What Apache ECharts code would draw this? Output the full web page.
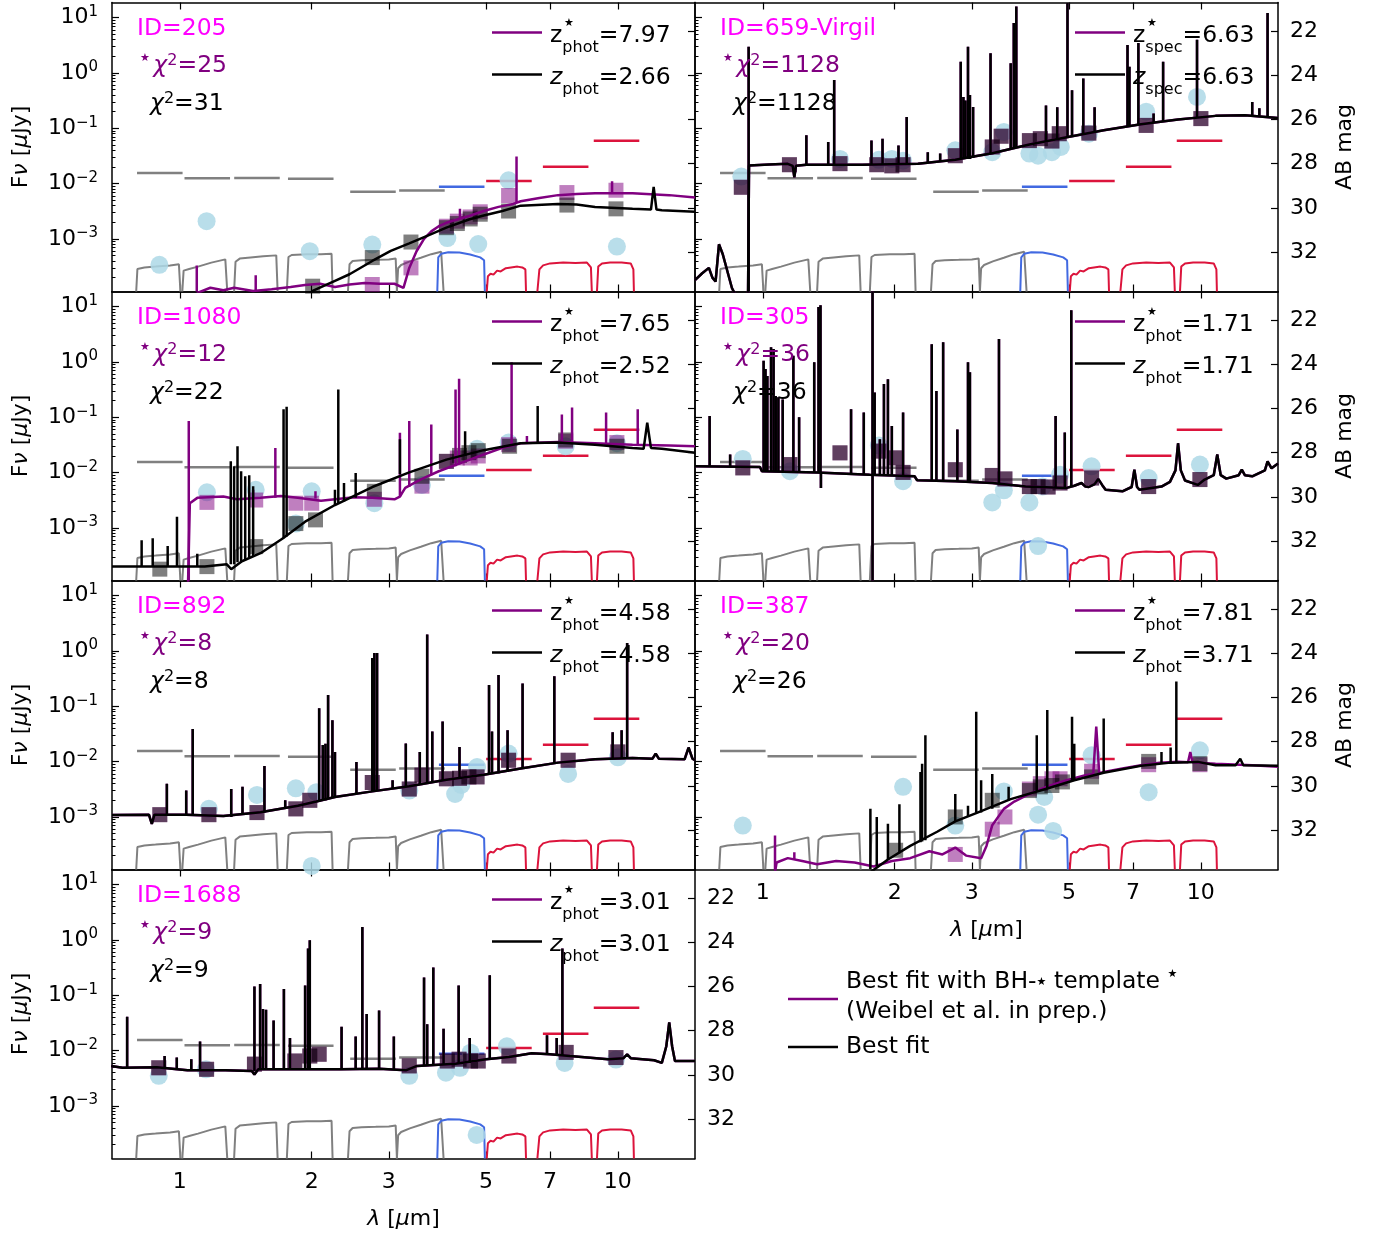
<!DOCTYPE html>
<html>
<head>
<meta charset="utf-8">
<script src="https://cdn.jsdelivr.net/npm/echarts@6/dist/echarts.min.js"></script>
<style>
  html, body { margin: 0; padding: 0; background: #fff; }
  #chart { width: 1384px; height: 1236px; }
</style>
</head>
<body>
<div id="chart"></div>
<script>
// ===== SED panels (wavelength in micron, flux density in microJy) =====

const FONT = 'DejaVu Sans';

const lamTicks = [1, 2, 3, 5, 7, 10];
const abTicks = [22, 24, 26, 28, 30, 32];
const lamRange = [0.7, 15];
const fluxRange = [1.122e-4, 18.84];

// filters: pivot, depth (the horizontal dashes), transmission curves
const filterPivot = [0.90, 1.155, 1.50, 1.99, 2.76, 3.57, 4.40, 5.64, 7.60, 9.93];
const filterDepth = [0.0156, 0.0125, 0.0126, 0.0123, 0.0071, 0.0075, 0.0088, 0.0112, 0.0202, 0.0596];

const f090w = [[0.795,0],[0.80,0.56],[0.83,0.60],[0.88,0.62],[0.95,0.65],[0.995,0.68],[1.003,0]];
const f115w = [[1.013,0],[1.02,0.52],[1.05,0.56],[1.10,0.62],[1.18,0.72],[1.27,0.80],[1.283,0]];
const f150w = [[1.33,0],[1.34,0.74],[1.37,0.82],[1.45,0.85],[1.55,0.88],[1.66,0.90],[1.672,0]];
const f200w = [[1.755,0],[1.77,0.86],[1.80,0.91],[1.95,0.93],[2.10,0.93],[2.22,0.94],[2.232,0]];
const f277w = [[2.42,0],[2.44,0.68],[2.48,0.76],[2.6,0.78],[2.8,0.79],[3.0,0.80],[3.11,0.82],[3.13,0]];
const f356w = [[3.13,0],[3.15,0.58],[3.2,0.66],[3.35,0.75],[3.55,0.84],[3.75,0.93],[3.95,0.99],[4.0,0]];
const f444w = [[3.87,0],[3.89,0.85],[3.95,0.94],[4.1,0.98],[4.35,0.97],[4.6,0.92],[4.85,0.85],[4.95,0.78],[4.97,0]];
const f560w = [[5.02,0],[5.05,0.38],[5.12,0.44],[5.2,0.42],[5.3,0.52],[5.4,0.50],[5.55,0.58],[5.7,0.60],[5.9,0.62],[6.05,0.60],[6.15,0.55],[6.17,0]];
const f770w = [[6.55,0],[6.62,0.55],[6.75,0.65],[7.0,0.70],[7.5,0.72],[8.0,0.71],[8.5,0.72],[8.68,0.60],[8.72,0]];
const f1000w = [[8.96,0],[9.02,0.62],[9.2,0.70],[9.6,0.72],[10.2,0.72],[10.7,0.70],[10.85,0.55],[10.88,0]];
const filterCurves = [f090w, f115w, f150w, f200w, f277w, f356w, f444w, f560w, f770w, f1000w];

// panel labels
const panelIds = ['ID=205', 'ID=659-Virgil', 'ID=1080', 'ID=305', 'ID=892', 'ID=387', 'ID=1688'];
const chi2Bh = [25, 1128, 12, 36, 8, 20, 9];
const chi2Best = [31, 1128, 22, 36, 8, 26, 9];
const zBh = ['7.97', '6.63', '7.65', '1.71', '4.58', '7.81', '3.01'];
const zBest = ['2.66', '6.63', '2.52', '1.71', '4.58', '3.71', '3.01'];
const zKind = ['phot', 'spec', 'phot', 'phot', 'phot', 'phot', 'phot'];

// ---- ID 205 ----
const p205Obs = [[0.898,0.00034],[1.151,0.0021],[1.98,0.0006],[2.75,0.00079],[4.08,0.00104],[4.8,0.00081],[5.63,0.0115],[9.95,0.00073]];
const p205BhPhot = [[2.75,0.00015],[3.37,0.0003],[4.06,0.0017],[4.3,0.0021],[4.6,0.0025],[4.85,0.0031],[5.63,0.0061],[7.65,0.0069],[9.9,0.0076]];
const p205BestPhot = [[2.01,0.00014],[2.75,0.00046],[3.37,0.00088],[4.06,0.0016],[4.3,0.0019],[4.6,0.0023],[4.85,0.0028],[5.63,0.0032],[7.65,0.0041],[9.9,0.0035]];
const p205BhSpec = [[1.0,0.00009],[1.085,0.00009],[1.1,0.000107],[1.174,0.000131],[1.257,0.000118],[1.33,0.000131],[1.47,0.000115],[1.62,0.000123],[1.79,0.000135],[1.93,0.000147],[2.09,0.000155],[2.26,0.000135],[2.44,0.00015],[2.64,0.00016],[2.86,0.000155],[3.09,0.000155],[3.24,0.000131],[3.34,0.0003],[3.47,0.0006],[3.61,0.001],[3.75,0.00137],[3.9,0.0017],[4.06,0.00196],[4.22,0.00216],[4.57,0.0026],[4.94,0.0032],[5.34,0.0038],[5.77,0.0043],[6.0,0.0048],[6.62,0.0055],[7.3,0.0062],[8.05,0.0065],[8.87,0.0067],[10.8,0.0067],[13.1,0.0062],[15,0.0056]];
const p205BhLines = [[1.093,0.0001,0.00033],[1.49,0.00012,0.00022],[4.36,0.0023,0.0035],[5.87,0.0045,0.031],[9.7,0.0067,0.011]];
const p205BestSpec = [[1.97,0.0001],[2.01,0.000115],[2.26,0.000175],[2.44,0.00023],[2.75,0.0004],[3.03,0.00061],[3.34,0.00083],[3.68,0.00115],[4.06,0.0016],[4.57,0.00225],[4.94,0.00265],[5.45,0.0032],[6.0,0.004],[7.3,0.0043],[8.05,0.0042],[8.87,0.0038],[10.8,0.0035],[11.9,0.0034],[12.07,0.0087],[12.25,0.0034],[12.6,0.0033],[15,0.0031]];
const p205BestLines = [];

// ---- ID 659 (Virgil) ----
const p659Obs = [[0.893,0.0134],[1.5,0.028],[1.84,0.027],[1.97,0.028],[2.09,0.026],[2.75,0.04],[3.34,0.037],[3.55,0.086],[4.06,0.035],[4.25,0.032],[4.57,0.037],[4.79,0.046],[5.55,0.08],[7.5,0.2],[9.8,0.37]];
const p659Phot = [[0.893,0.0086],[1.15,0.022],[1.5,0.023],[1.82,0.022],[1.97,0.021],[2.09,0.022],[2.75,0.032],[3.34,0.046],[3.5,0.072],[4.06,0.06],[4.3,0.065],[4.57,0.059],[4.75,0.08],[5.55,0.082],[7.5,0.113],[10,0.15]];
const p659Spec = [[0.70,0.00018],[0.727,0.00024],[0.753,0.0003],[0.767,0.0002],[0.78,0.00017],[0.794,0.0008],[0.81,0.00053],[0.85,0.00013],[0.87,0.00009],[0.925,0.00009],[0.93,0.0212],[0.938,0.0212],[1.034,0.0222],[1.14,0.0228],[1.17,0.021],[1.18,0.013],[1.19,0.021],[1.257,0.022],[1.685,0.022],[2.26,0.0228],[2.75,0.027],[3.34,0.0355],[4.06,0.051],[4.94,0.069],[6.0,0.092],[7.3,0.118],[8.87,0.144],[10.8,0.168],[12.6,0.172],[15,0.154]];
const p659Lines = [[0.928,0.0001,3.0],[1.257,0.022,0.0746],[1.41,0.022,0.0565],[1.455,0.022,0.746],[1.77,0.022,0.0605],[1.876,0.022,0.0649],[2.04,0.022,0.049],[2.13,0.023,0.16],[2.38,0.024,0.037],[2.54,0.025,0.035],[2.83,0.028,1.6],[2.87,0.028,0.37],[2.9,0.028,0.32],[2.94,0.028,3.0],[2.97,0.028,0.4],[3.02,0.029,0.244],[3.31,0.035,2.28],[3.68,0.043,1.5],[3.74,0.043,8.0],[3.79,0.044,16],[4.43,0.058,0.26],[4.7,0.064,0.24],[4.96,0.069,18.5],[5.08,0.072,0.49],[5.39,0.08,0.8],[5.72,0.086,0.24],[6.8,0.108,3.2],[6.87,0.109,1.3],[7.2,0.115,3.5],[7.8,0.125,0.185],[8.2,0.132,1.6],[9.8,0.156,4.0],[13.1,0.17,0.3],[13.6,0.168,0.23],[14.2,0.165,12.2]];

// ---- ID 1080 ----
const p1080Obs = [[1.153,0.0044],[1.49,0.0049],[1.84,0.0012],[2.0,0.0046],[2.78,0.0028],[3.57,0.006],[4.77,0.027],[5.63,0.035],[7.6,0.03],[9.95,0.034]];
const p1080BhPhot = [[1.153,0.0029],[1.49,0.0032],[1.84,0.0028],[2.0,0.0028],[2.78,0.0033],[3.57,0.0057],[4.06,0.016],[4.3,0.0184],[4.6,0.0184],[4.8,0.02],[5.63,0.032],[7.6,0.037],[9.95,0.035]];
const p1080BestPhot = [[0.9,0.00018],[1.153,0.0002],[1.49,0.00046],[1.84,0.0012],[2.04,0.0014],[2.78,0.0046],[3.57,0.0086],[4.06,0.016],[4.35,0.0205],[4.57,0.023],[4.8,0.025],[5.66,0.03],[7.6,0.039],[9.95,0.03]];
const p1080BhSpec = [[1.044,0.0001],[1.054,0.0028],[1.096,0.0035],[1.257,0.0037],[1.35,0.0033],[1.528,0.0035],[1.7,0.0038],[1.858,0.0035],[2.1,0.0031],[2.26,0.0033],[2.5,0.0036],[2.75,0.0035],[3.09,0.0033],[3.18,0.0037],[3.27,0.0053],[3.54,0.0075],[3.9,0.0106],[4.48,0.016],[4.94,0.0213],[5.45,0.028],[6.0,0.034],[7.3,0.036],[8.87,0.034],[10.8,0.032],[13.1,0.031],[15,0.030]];
const p1080BhLines = [[1.048,0.0001,0.086],[1.47,0.0035,0.0049],[1.652,0.0035,0.028],[2.04,0.0034,0.0046],[3.18,0.0037,0.0526],[3.34,0.0055,0.086],[3.75,0.009,0.074],[4.26,0.013,0.32],[4.34,0.014,0.5],[5.72,0.03,0.99],[6.2,0.034,0.046],[7.45,0.036,0.113],[7.86,0.036,0.15],[9.4,0.034,0.122],[11.1,0.032,0.14]];
const p1080BestSpec = [[0.70,0.0002],[0.938,0.0002],[1.14,0.0002],[1.28,0.00022],[1.31,0.00018],[1.386,0.00025],[1.528,0.00035],[1.72,0.00065],[1.932,0.0013],[2.26,0.0026],[2.75,0.0055],[3.34,0.0101],[4.06,0.0172],[4.94,0.0255],[6.0,0.034],[7.3,0.035],[8.87,0.032],[10.8,0.028],[11.45,0.027],[11.67,0.08],[11.9,0.028],[12.6,0.027],[15,0.023]];
const p1080BestLines = [[0.818,0.0002,0.0006],[0.867,0.0002,0.00065],[0.938,0.0002,0.00047],[0.985,0.0002,0.0016],[1.096,0.0002,0.00034],[1.307,0.00022,0.016],[1.33,0.00022,0.013],[1.354,0.00024,0.03],[1.38,0.00025,0.0106],[1.41,0.00026,0.0086],[1.44,0.0003,0.009],[1.47,0.0003,0.0057],[1.725,0.00065,0.14],[1.753,0.0007,0.156],[2.26,0.0026,0.0049],[2.3,0.0028,0.32],[2.37,0.003,0.0065],[2.52,0.0035,0.0099],[3.18,0.0095,0.04],[4.48,0.02,0.056],[6.56,0.035,0.16]];

// ---- ID 305 ----
const p305Obs = [[0.9,0.0177],[1.153,0.0106],[1.84,0.031],[2.09,0.007],[3.34,0.0029],[3.55,0.0048],[4.06,0.0029],[4.25,0.00047],[4.35,0.0056],[4.77,0.0092],[5.63,0.013],[7.6,0.008],[9.95,0.014]];
const p305Phot = [[0.9,0.0122],[1.153,0.014],[1.5,0.0228],[1.84,0.0245],[2.0,0.0185],[2.09,0.0101],[2.75,0.0113],[3.34,0.0089],[3.57,0.0077],[4.06,0.0056],[4.25,0.0056],[4.48,0.0055],[4.77,0.0065],[5.63,0.008],[7.6,0.0056],[9.95,0.0075]];
const p305Spec = [[0.70,0.013],[0.985,0.0127],[0.995,0.0106],[1.33,0.0101],[1.753,0.0092],[2.22,0.0086],[2.25,0.0073],[2.75,0.007],[3.34,0.0065],[3.98,0.0056],[4.94,0.0053],[5.14,0.0058],[5.34,0.0065],[5.45,0.0056],[5.55,0.0055],[5.72,0.0062],[5.83,0.0077],[5.95,0.006],[6.06,0.0049],[6.62,0.0046],[6.95,0.0055],[7.05,0.0113],[7.15,0.0055],[7.24,0.0049],[8.13,0.0056],[8.5,0.0068],[8.75,0.011],[8.87,0.034],[9.0,0.011],[9.2,0.0072],[9.84,0.006],[10.2,0.0075],[10.7,0.009],[10.9,0.0213],[11.1,0.009],[11.43,0.0078],[12.2,0.009],[12.4,0.0113],[12.6,0.009],[13.1,0.0086],[14.0,0.011],[14.2,0.016],[14.5,0.012],[15,0.0146]];
const p305Lines = [[0.756,0.013,0.106],[0.842,0.013,0.0212],[1.004,0.0106,1.06],[1.014,0.0106,0.746],[1.024,0.0106,0.56],[1.044,0.0106,1.85],[1.058,0.0106,1.72],[1.07,0.0106,0.244],[1.085,0.0106,0.23],[1.11,0.0105,0.21],[1.174,0.0104,1.3],[1.21,0.0103,0.1],[1.31,0.0101,0.99],[1.34,0.0101,9.9],[1.354,0.0101,10.6],[1.357,0.0101,0.0053],[1.59,0.0095,0.14],[1.70,0.0093,0.122],[1.78,0.0001,25],[1.8,0.0092,0.28],[1.85,0.0091,0.04],[1.89,0.009,0.4],[1.93,0.009,0.49],[1.97,0.009,0.07],[2.09,0.0089,0.122],[2.43,0.0072,2.1],[2.49,0.0072,0.3],[2.58,0.0071,2.28],[2.78,0.007,0.06],[2.94,0.0069,0.99],[2.97,0.0069,0.65],[3.46,0.0063,2.6],[4.66,0.0054,0.106],[4.89,0.0053,0.053],[5.06,0.0055,8.6]];

// ---- ID 892 ----
const p892Obs = [[1.165,0.0014],[1.5,0.0025],[1.84,0.0033],[2.0,0.00013],[2.05,0.0028],[3.34,0.003],[4.25,0.0026],[4.39,0.0038],[4.77,0.008],[5.63,0.014],[7.7,0.006],[10.0,0.012]];
const p892Phot = [[0.9,0.0011],[1.165,0.0011],[1.5,0.0012],[1.84,0.0014],[1.98,0.002],[2.75,0.0042],[3.34,0.0032],[3.57,0.0057],[4.06,0.0049],[4.35,0.005],[4.57,0.0053],[4.77,0.0053],[5.63,0.0106],[7.7,0.0106],[10.0,0.015]];
const p892Spec = [[0.70,0.00109],[0.85,0.0011],[0.863,0.00075],[0.875,0.0011],[1.034,0.0011],[1.257,0.00104],[1.528,0.00122],[1.86,0.0016],[2.05,0.0019],[2.26,0.0023],[2.75,0.0029],[3.34,0.0036],[4.06,0.0047],[4.94,0.0058],[6.0,0.0075],[7.3,0.0096],[8.87,0.011],[10.8,0.0116],[12.0,0.0113],[12.2,0.014],[12.4,0.0113],[14.2,0.011],[14.5,0.018],[14.8,0.0113],[15,0.0106]];
const p892Lines = [[0.934,0.0011,0.004],[1.034,0.0011,0.003],[1.07,0.0011,0.039],[1.31,0.001,0.0032],[1.39,0.0011,0.0035],[1.56,0.0012,0.0083],[1.74,0.0014,0.002],[2.08,0.0019,0.092],[2.12,0.002,0.02],[2.15,0.002,0.021],[2.18,0.0021,0.16],[2.23,0.0022,0.056],[2.26,0.0023,0.015],[2.53,0.0026,0.0099],[2.75,0.0029,0.75],[2.78,0.0029,0.92],[2.82,0.003,0.92],[3.06,0.0032,0.0046],[3.28,0.0035,0.0213],[3.53,0.0038,0.015],[3.67,0.004,1.98],[3.77,0.0041,0.035],[3.98,0.0046,0.053],[4.35,0.005,0.0184],[5.08,0.0059,0.244],[5.16,0.006,0.035],[5.34,0.0062,0.37],[5.6,0.0066,0.037],[6.06,0.0074,0.26],[7.16,0.0094,0.35],[9.73,0.0113,0.034],[10.2,0.0115,0.037],[10.5,0.0115,1.4]];

// ---- ID 387 ----
const p387Obs = [[0.9,0.0007],[2.09,0.0035],[2.75,0.0007],[3.55,0.0029],[4.25,0.0011],[4.39,0.0023],[4.6,0.00056],[5.63,0.013],[7.6,0.0028],[9.95,0.016]];
const p387BhPhot = [[2.75,0.00021],[3.34,0.0006],[3.57,0.001],[4.06,0.0032],[4.3,0.004],[4.57,0.0049],[4.77,0.0049],[5.63,0.0067],[7.6,0.0088],[9.95,0.0088]];
const p387BestPhot = [[2.01,0.00025],[2.75,0.001],[3.34,0.002],[4.06,0.003],[4.3,0.0035],[4.57,0.0037],[4.83,0.0043],[5.63,0.0053],[7.6,0.0101],[9.95,0.0092]];
const p387BhSpec = [[1.066,0.0001],[1.075,0.00015],[1.14,0.00018],[1.23,0.00016],[1.33,0.00014],[1.47,0.00016],[1.62,0.00015],[1.79,0.000127],[1.97,0.00016],[2.17,0.00018],[2.4,0.00024],[2.57,0.00021],[2.75,0.00028],[2.91,0.0002],[3.15,0.00018],[3.24,0.0003],[3.34,0.00071],[3.55,0.0014],[3.75,0.0019],[4.06,0.0026],[4.48,0.0036],[4.94,0.0046],[5.45,0.0057],[5.68,0.006],[5.77,0.043],[5.86,0.0062],[6.0,0.0065],[6.62,0.0075],[7.3,0.0086],[8.05,0.0096],[8.87,0.01],[9.35,0.0098],[9.46,0.015],[9.57,0.0097],[10.8,0.0092],[13.1,0.0086],[15,0.0081]];
const p387BhLines = [[1.066,0.0001,0.00046],[1.18,0.00017,0.00023]];
const p387BestSpec = [[1.76,0.0001],[1.93,0.00017],[2.17,0.0003],[2.5,0.00054],[2.75,0.00083],[3.09,0.0012],[3.68,0.0021],[4.48,0.0033],[5.14,0.0046],[6.0,0.0063],[7.3,0.0084],[8.53,0.0096],[9.84,0.0099],[10.8,0.0086],[12.0,0.0086],[12.3,0.0113],[12.5,0.0086],[15,0.0084]];
const p387BestLines = [[1.76,0.0001,0.0014],[1.82,0.00013,0.001],[1.93,0.00017,0.00075],[2.05,0.00022,0.0017],[2.29,0.00035,0.0065],[2.31,0.00036,0.0092],[2.35,0.00038,0.03],[2.75,0.00083,0.0026],[2.94,0.001,0.0016],[3.07,0.0012,0.08],[3.15,0.0012,0.0046],[3.34,0.0014,0.006],[3.64,0.002,0.0035],[4.22,0.0029,0.03],[4.46,0.0033,0.086],[5.08,0.0045,0.065],[5.14,0.0046,0.021],[6.0,0.0063,0.06],[8.13,0.0093,0.015],[8.53,0.0096,0.018],[8.79,0.0097,0.28]];

// ---- ID 1688 ----
const p1688Obs = [[0.895,0.0035],[1.147,0.0046],[3.34,0.0035],[4.05,0.004],[4.36,0.0049],[4.61,0.0092],[4.76,0.0003],[5.58,0.012],[7.56,0.006],[9.9,0.0069]];
const p1688Phot = [[0.895,0.0049],[1.151,0.0046],[1.48,0.0057],[1.83,0.0065],[1.98,0.008],[2.08,0.0086],[3.34,0.0053],[4.08,0.0065],[4.34,0.007],[4.61,0.0065],[4.8,0.0065],[5.64,0.008],[7.62,0.0093],[9.9,0.0075]];
const p1688Spec = [[0.697,0.0053],[0.74,0.0049],[0.886,0.005],[1.041,0.0044],[1.27,0.0044],[1.46,0.0043],[1.48,0.0037],[1.51,0.0046],[1.9,0.0046],[2.33,0.0046],[2.85,0.0047],[3.28,0.0044],[3.48,0.0053],[4.26,0.0058],[5.0,0.007],[5.64,0.0077],[6.36,0.009],[7.0,0.0086],[7.77,0.008],[9.5,0.007],[10.3,0.0073],[10.5,0.0086],[10.7,0.0073],[12.1,0.0067],[12.6,0.006],[12.9,0.012],[13.1,0.0324],[13.3,0.012],[13.5,0.0065],[15,0.0065]];
const p1688Lines = [[0.758,0.0049,0.041],[0.923,0.005,0.008],[0.984,0.0046,0.0075],[1.062,0.0044,0.007],[1.112,0.0044,0.0146],[1.48,0.0043,0.144],[1.525,0.0046,0.16],[1.548,0.0046,0.0565],[1.573,0.0046,0.055],[1.637,0.0046,0.035],[1.728,0.0046,0.13],[1.784,0.0046,0.017],[1.932,0.0046,0.15],[1.962,0.0046,0.7],[1.98,0.0046,0.99],[2.34,0.0046,0.027],[2.52,0.0046,0.018],[2.61,0.0046,1.72],[2.67,0.0046,0.046],[2.85,0.0047,0.053],[3.08,0.0046,0.018],[3.61,0.0054,0.21],[3.67,0.0055,0.03],[3.79,0.0055,0.32],[4.0,0.0056,0.025],[4.33,0.0058,0.15],[4.59,0.006,0.017],[5.1,0.007,0.23],[6.89,0.0087,0.019],[7.25,0.0083,0.017],[7.47,0.0082,0.7]];

// table of panels built from the arrays above
const panelData = [
  { obs: p205Obs, bhPhot: p205BhPhot, bestPhot: p205BestPhot, bhSpec: p205BhSpec, bhLines: p205BhLines, bestSpec: p205BestSpec, bestLines: p205BestLines },
  { obs: p659Obs, bhPhot: p659Phot, bestPhot: p659Phot, bhSpec: p659Spec, bhLines: p659Lines, bestSpec: p659Spec, bestLines: p659Lines },
  { obs: p1080Obs, bhPhot: p1080BhPhot, bestPhot: p1080BestPhot, bhSpec: p1080BhSpec, bhLines: p1080BhLines, bestSpec: p1080BestSpec, bestLines: p1080BestLines },
  { obs: p305Obs, bhPhot: p305Phot, bestPhot: p305Phot, bhSpec: p305Spec, bhLines: p305Lines, bestSpec: p305Spec, bestLines: p305Lines },
  { obs: p892Obs, bhPhot: p892Phot, bestPhot: p892Phot, bhSpec: p892Spec, bhLines: p892Lines, bestSpec: p892Spec, bestLines: p892Lines },
  { obs: p387Obs, bhPhot: p387BhPhot, bestPhot: p387BestPhot, bhSpec: p387BhSpec, bhLines: p387BhLines, bestSpec: p387BestSpec, bestLines: p387BestLines },
  { obs: p1688Obs, bhPhot: p1688Phot, bestPhot: p1688Phot, bhSpec: p1688Spec, bhLines: p1688Lines, bestSpec: p1688Spec, bestLines: p1688Lines }
];

// ===== layout / style =====
const PURPLE = '#800080', MAGENTA = '#ff00ff';
const GRAY = '#808080', BLUE = '#4169e1', RED = '#dc143c';
const gridLeft = [112, 695];
const gridTop = [2.5, 291.5, 580.5, 869.5];
const gridW = 583, gridH = 289;
const cells = [[0,0],[1,0],[0,1],[1,1],[0,2],[1,2],[0,3]];
const DASH = 0.052;
const FILTER_MAX = 7.2;
const TXT = 23.5, SUBTXT = 16;
const STAR = '\u2605';

const lg = v => Math.log10(v);
const toXY = pts => pts.map(p => [lg(p[0]), lg(p[1])]);
const X0 = lg(lamRange[0]), X1 = lg(lamRange[1]);
const Y0 = lg(fluxRange[0]), Y1 = lg(fluxRange[1]);
const xTickVals = lamTicks.map(lg);
const yMajorVals = [-3, -2, -1, 0, 1];
const yMinorVals = [];
for (let e = -4; e <= 1; e++) {
  for (let k = 2; k <= 9; k++) {
    const v = e + Math.log10(k);
    if (v > Y0 && v < Y1) yMinorVals.push(v);
  }
}
const abVals = abTicks.map(m => (23.9 - m) / 2.5);
const filterColor = k => (k < 6 ? GRAY : (k === 6 ? BLUE : RED));

const nameRich = {
  i: { fontSize: 22, fontFamily: FONT, fontStyle: 'italic', color: '#000' },
  n: { fontSize: 22, fontFamily: FONT, color: '#000' }
};

const richFor = (H, fill) => ({
  n: { fontSize: TXT, fontFamily: FONT, lineHeight: H, fill },
  i: { fontSize: TXT, fontFamily: FONT, fontStyle: 'italic', lineHeight: H, fill },
  sup: { fontSize: SUBTXT, fontFamily: FONT, lineHeight: 17, verticalAlign: 'top', fill },
  sub: { fontSize: SUBTXT, fontFamily: FONT, lineHeight: 17, verticalAlign: 'bottom', fill },
  st: { fontSize: 11, fontFamily: FONT, lineHeight: 14, verticalAlign: 'top', fill },
  m: { fontSize: 11, fontFamily: FONT, lineHeight: H, fill }
});

function txt(x, y, text, fill, H) {
  return {
    type: 'text', x, y, z: 100, silent: true,
    style: { text, fill, align: 'left', verticalAlign: 'middle', fontSize: TXT, fontFamily: FONT, rich: richFor(H, fill) }
  };
}

function seg(x1, y1, x2, y2, stroke) {
  return { type: 'line', z: 100, silent: true, shape: { x1, y1, x2, y2 }, style: { stroke, lineWidth: 2.5 } };
}

const axisLine = { onZero: false, lineStyle: { color: '#000', width: 1.5 } };
const tickStyle = { color: '#000', width: 1.2 };

const grids = [], xAxes = [], yAxes = [], series = [], graphics = [];

panelData.forEach((pd, i) => {
  const col = cells[i][0], row = cells[i][1];
  const L = gridLeft[col], T = gridTop[row];
  const showX = (i === 5 || i === 6);
  const showLeft = col === 0;
  const showRight = col === 1 || i === 6;

  grids.push({ left: L, top: T, width: gridW, height: gridH });

  // x axes: bottom (labelled on last row) + top (ticks only)
  xAxes.push({
    type: 'value', gridIndex: i, position: 'bottom', min: X0, max: X1,
    axisLine, splitLine: { show: false },
    axisTick: { inside: true, length: 7, customValues: xTickVals, lineStyle: tickStyle },
    axisLabel: {
      show: showX, customValues: xTickVals, margin: 13,
      formatter: v => String(Math.round(Math.pow(10, v))),
      fontSize: 22, fontFamily: FONT, color: '#000'
    },
    name: showX ? '{i|λ}{n| [}{i|μ}{n|m]}' : '',
    nameLocation: 'middle', nameGap: 50,
    nameTextStyle: { fontSize: 22, fontFamily: FONT, color: '#000', rich: nameRich }
  });
  xAxes.push({
    type: 'value', gridIndex: i, position: 'top', min: X0, max: X1,
    axisLine, splitLine: { show: false },
    axisTick: { inside: true, length: 7, customValues: xTickVals, lineStyle: tickStyle },
    axisLabel: { show: false }
  });

  // y axes: flux decades, minor ticks, AB mag, filter transmission
  yAxes.push({
    type: 'value', gridIndex: i, position: 'left', min: Y0, max: Y1,
    axisLine, splitLine: { show: false },
    axisTick: { inside: true, length: 7, customValues: yMajorVals, lineStyle: tickStyle },
    axisLabel: {
      show: showLeft, customValues: yMajorVals, margin: 14,
      formatter: v => {
        const e = Math.round(v);
        return '{b|10}{s|' + (e < 0 ? '\u2212' + (-e) : e) + '}';
      },
      rich: {
        b: { fontSize: 22, fontFamily: FONT, color: '#000', lineHeight: 26 },
        s: { fontSize: 15, fontFamily: FONT, color: '#000', lineHeight: 16, verticalAlign: 'top' }
      }
    },
    name: showLeft ? '{n|F}{i|ν}{n| [}{i|μ}{n|Jy]}' : '',
    nameLocation: 'middle', nameRotate: 90, nameGap: 80,
    nameTextStyle: { fontSize: 22, fontFamily: FONT, color: '#000', rich: nameRich }
  });
  yAxes.push({
    type: 'value', gridIndex: i, position: 'left', min: Y0, max: Y1,
    axisLine: { show: false, onZero: false }, splitLine: { show: false },
    axisTick: { inside: true, length: 3.5, customValues: yMinorVals, lineStyle: { color: '#000', width: 1 } },
    axisLabel: { show: false }
  });
  yAxes.push({
    type: 'value', gridIndex: i, position: 'right', min: Y0, max: Y1,
    axisLine, splitLine: { show: false },
    axisTick: { inside: true, length: 7, customValues: abVals, lineStyle: tickStyle },
    axisLabel: {
      show: showRight, customValues: abVals, margin: 12,
      formatter: v => String(Math.round(23.9 - 2.5 * v)),
      fontSize: 22, fontFamily: FONT, color: '#000'
    },
    name: col === 1 ? 'AB mag' : '',
    nameLocation: 'middle', nameRotate: 90, nameGap: 56,
    nameTextStyle: { fontSize: 22, fontFamily: FONT, color: '#000' }
  });
  yAxes.push({
    type: 'value', gridIndex: i, position: 'right', min: 0, max: FILTER_MAX, show: false,
    axisLine: { onZero: false }
  });

  const xb = 2 * i, yf = 4 * i, yt = 4 * i + 3;

  // filter transmission curves
  filterCurves.forEach((c, k) => {
    series.push({
      type: 'line', xAxisIndex: xb, yAxisIndex: yt, silent: true, z: 2,
      data: c.map(p => [lg(p[0]), p[1]]),
      showSymbol: false, symbol: 'none',
      lineStyle: { color: filterColor(k), width: 2 }
    });
  });

  // depth dashes
  series.push({
    type: 'custom', xAxisIndex: xb, yAxisIndex: yf, silent: true, z: 3, clip: true,
    data: filterPivot.map((p, k) => [lg(p) - DASH, lg(p) + DASH, lg(filterDepth[k]), k]),
    encode: { x: [0, 1], y: 2 },
    renderItem: (params, api) => {
      const a = api.coord([api.value(0), api.value(2)]);
      const b = api.coord([api.value(1), api.value(2)]);
      return {
        type: 'line', shape: { x1: a[0], y1: a[1], x2: b[0], y2: b[1] },
        style: { stroke: filterColor(api.value(3)), lineWidth: 2.5 }
      };
    }
  });

  // observed photometry
  series.push({
    type: 'scatter', xAxisIndex: xb, yAxisIndex: yf, silent: true, z: 4,
    data: toXY(pd.obs), symbol: 'circle', symbolSize: 18,
    itemStyle: { color: '#add8e6', opacity: 0.85 }
  });
  // model photometry
  series.push({
    type: 'scatter', xAxisIndex: xb, yAxisIndex: yf, silent: true, z: 5,
    data: toXY(pd.bhPhot), symbol: 'rect', symbolSize: 15,
    itemStyle: { color: PURPLE, opacity: 0.5 }
  });
  series.push({
    type: 'scatter', xAxisIndex: xb, yAxisIndex: yf, silent: true, z: 5,
    data: toXY(pd.bestPhot), symbol: 'rect', symbolSize: 15,
    itemStyle: { color: '#000', opacity: 0.5 }
  });

  // spectra: continuum + emission lines
  const addSpec = (pts, lines, color, z) => {
    series.push({
      type: 'line', xAxisIndex: xb, yAxisIndex: yf, silent: true, z,
      data: toXY(pts), showSymbol: false, symbol: 'none',
      lineStyle: { color, width: 2.5 }
    });
    series.push({
      type: 'custom', xAxisIndex: xb, yAxisIndex: yf, silent: true, z, clip: true,
      data: lines.map(l => [lg(l[0]), lg(l[1]), lg(l[2])]),
      encode: { x: 0, y: [1, 2] },
      renderItem: (params, api) => {
        const a = api.coord([api.value(0), api.value(1)]);
        const b = api.coord([api.value(0), api.value(2)]);
        return {
          type: 'line', shape: { x1: a[0], y1: a[1], x2: b[0], y2: b[1] },
          style: { stroke: color, lineWidth: 2.5 }
        };
      }
    });
  };
  addSpec(pd.bhSpec, pd.bhLines, PURPLE, 6);
  addSpec(pd.bestSpec, pd.bestLines, '#000', 7);

  // panel annotations
  graphics.push(txt(L + 25, T + 26, '{n|' + panelIds[i] + '}', MAGENTA, 26));
  graphics.push(txt(L + 28, T + 63, '{st|' + STAR + ' }{i|χ}{sup|2}{n|=' + chi2Bh[i] + '}', PURPLE, 26));
  graphics.push(txt(L + 38, T + 101, '{i|χ}{sup|2}{n|=' + chi2Best[i] + '}', '#000', 26));

  graphics.push(seg(L + 380, T + 30, L + 430, T + 30, PURPLE));
  graphics.push(txt(L + 438, T + 33, '{n|z}{sub|' + zKind[i] + '}{n|=' + zBh[i] + '}', '#000', 40));
  graphics.push(txt(L + 452, T + 21, '{m|' + STAR + '}', '#000', 16));
  graphics.push(seg(L + 380, T + 72, L + 430, T + 72, '#000'));
  graphics.push(txt(L + 438, T + 75, '{i|z}{sub|' + zKind[i] + '}{n|=' + zBest[i] + '}', '#000', 40));
});

// figure legend (bottom right)
graphics.push(seg(788, 999, 838, 999, PURPLE));
graphics.push(txt(846, 982, '{n|Best fit with BH-}{m|' + STAR + '}{n| template }{st|' + STAR + '}', '#000', 26));
graphics.push(txt(846, 1012, '{n|(Weibel et al. in prep.)}', '#000', 26));
graphics.push(seg(788, 1047, 838, 1047, '#000'));
graphics.push(txt(846, 1047, '{n|Best fit}', '#000', 26));

const chart = echarts.init(document.getElementById('chart'));
chart.setOption({
  animation: false,
  backgroundColor: '#fff',
  textStyle: { fontFamily: FONT },
  grid: grids,
  xAxis: xAxes,
  yAxis: yAxes,
  series,
  graphic: { elements: graphics }
});
window.addEventListener('resize', () => chart.resize());
</script>
</body>
</html>
